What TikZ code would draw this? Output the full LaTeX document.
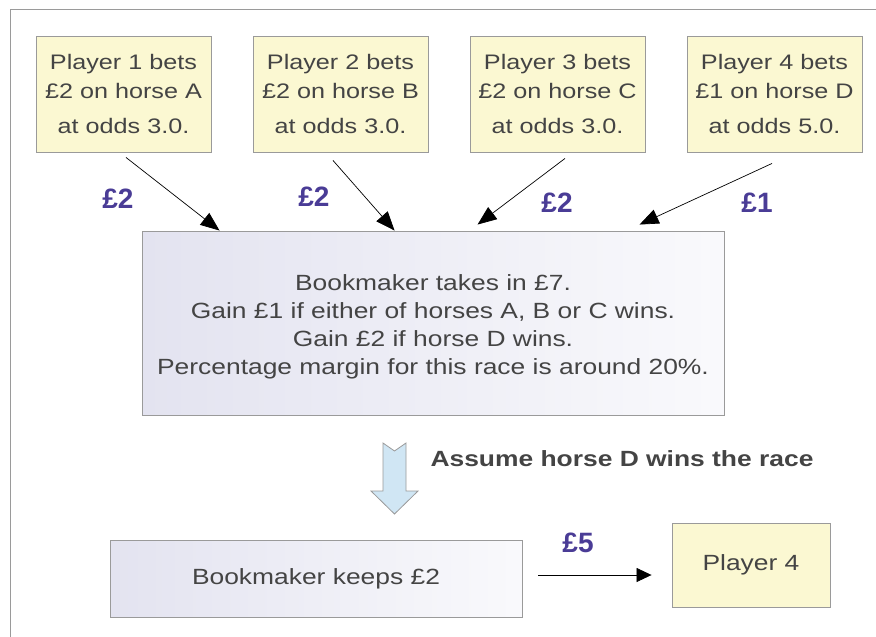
\documentclass[tikz,border=0pt]{standalone}
\usepackage{fontspec}
\setmainfont[FakeStretch=1.2]{Liberation Sans}
\newfontfamily\stakefont{Liberation Sans}
\usepackage{xcolor}
\definecolor{betyellow}{HTML}{FBF8D2}
\definecolor{bookblue}{HTML}{E3E3F0}
\definecolor{edgegray}{HTML}{9A9A9A}
\definecolor{textgray}{HTML}{444444}
\definecolor{stakeblue}{HTML}{4A3C96}
\definecolor{hintblue}{HTML}{D0E6F4}
\usetikzlibrary{arrows.meta, positioning, calc}

\begin{document}
\begin{tikzpicture}[
      x=1pt, y=-1pt,
      every node/.style={text=textgray},
      bet/.style={draw=edgegray, line width=0.9pt, fill=betyellow,
                  minimum width=175pt, minimum height=116pt,
                  font=\fontsize{21}{29}\selectfont, align=center},
      book/.style={draw=edgegray, line width=0.9pt,
                   left color=bookblue, right color=bookblue!20,
                   font=\fontsize{22}{28}\selectfont, align=center},
      stake/.style={text=stakeblue, font=\stakefont\fontsize{28}{30}\selectfont\bfseries},
      pay/.style={-{Triangle[length=19pt,width=15pt]}, line width=0.7pt, black}
    ]
    \useasboundingbox (0,0) rectangle (876,637);
    % frame round the page
    \draw[edgegray, line width=1pt] (10,637) -- (10,9) -- (876,9);

    % the four bets
    \node[bet] (p1) at (123.5,94) {Player 1 bets\\ £2 on horse A\\[6pt] at odds 3.0.};
    \node[bet] (p2) at (340.5,94) {Player 2 bets\\ £2 on horse B\\[6pt] at odds 3.0.};
    \node[bet] (p3) at (557.5,94) {Player 3 bets\\ £2 on horse C\\[6pt] at odds 3.0.};
    \node[bet] (p4) at (774.5,94) {Player 4 bets\\ £1 on horse D\\[6pt] at odds 5.0.};

    \node[book, minimum width=582pt, minimum height=184pt] (book) at (433,323)
      {\\[-4pt] Bookmaker takes in £7.\\
       Gain £1 if either of horses A, B or C wins.\\
       Gain £2 if horse D wins.\\
       Percentage margin for this race is around 20\%.};

    \draw[pay] ([xshift=2.5pt,yshift=-5pt]p1.south) -- ([xshift=78pt]book.north west);
    \draw[pay] ([xshift=-7.5pt,yshift=-8pt]p2.south) -- ([xshift=253pt]book.north west);
    \draw[pay] ([xshift=7.5pt,yshift=-6pt]p3.south) -- ([xshift=336pt,yshift=6pt]book.north west);
    \draw[pay] ([xshift=-2.5pt,yshift=-11pt]p4.south) -- ([xshift=498pt,yshift=6pt]book.north west);

    \node[stake] (s1) at (118,199) {£2};
    \node[stake] (s2) at (314,197) {£2};
    \node[stake] (s3) at (557,203) {£2};
    \node[stake] (s4) at (757,203) {£1};

    % what happens if D comes in
    \draw[edgegray, fill=hintblue, line width=0.8pt]
      (383,443) -- (394.5,451) -- (406,443) -- (406,491) -- (418,491)
      -- (394.5,514) -- (371,491) -- (383,491) -- cycle;
    \node[anchor=west, font=\fontsize{22}{24}\selectfont\bfseries] (assume) at (427,459)
      {Assume horse D wins the race};

    \node[book, minimum width=412pt, minimum height=77pt] (keep) at (316,578.5)
      {Bookmaker keeps £2};
    \node[bet, minimum width=158pt, minimum height=84pt,
          font=\fontsize{22}{26}\selectfont] (winner) at (751,565) {Player 4};

    \draw[pay, -{Triangle[length=15pt,width=14pt]}]
      ([xshift=16pt,yshift=3.5pt]keep.east) -- ([xshift=-20pt,yshift=-10pt]winner.west);
    \node[stake] (s5) at (578,543) {£5};
  \end{tikzpicture}
\end{document}
